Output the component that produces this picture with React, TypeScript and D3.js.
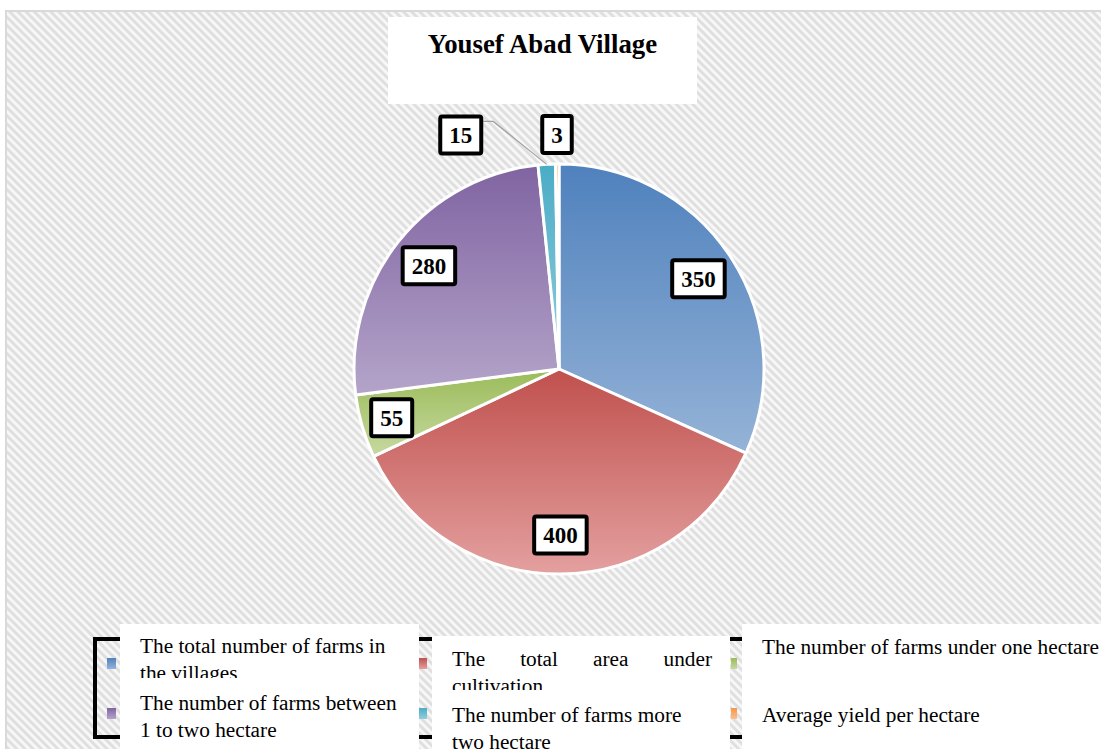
import React from 'react';
import * as d3 from 'd3';

const title = 'Yousef Abad Village';
const categories = [
  'The total number of farms in the villages',
  'The total area under cultivation',
  'The number of farms under one hectare',
  'The number of farms between 1 to two hectare',
  'The number of farms more two hectare',
  'Average yield per hectare',
];
const values = [350, 400, 55, 280, 15, 3];
const topColors = ['#4f81bd', '#c0504d', '#9bbb59', '#8064a2', '#4bacc6', '#f79646'];
const bottomColors = ['#95b3d7', '#e3a09f', '#c6d9a0', '#b4a4c9', '#93cddd', '#fac090'];
const legendLines = [
  ['The total number of farms in', 'the villages'],
  ['The total area under', 'cultivation'],
  ['The number of farms under one hectare'],
  ['The number of farms between', '1 to two hectare'],
  ['The number of farms more', 'two hectare'],
  ['Average yield per hectare'],
];

const SERIF = '"Liberation Serif", "Times New Roman", serif';

let ctx: CanvasRenderingContext2D | null = null;
function measure(text: string, font: string): number {
  if (!ctx) ctx = document.createElement('canvas').getContext('2d');
  if (!ctx) return text.length * 10;
  ctx.font = font;
  return ctx.measureText(text).width;
}

export default function App() {
  const W = 1101, H = 749;
  const cx = 559, cy = 369, R = 205;

  const pie = d3.pie<number>().value((d) => d).sort(null).startAngle(0).endAngle(2 * Math.PI);
  const arcs = pie(values);
  const arcGen = d3.arc<d3.PieArcDatum<number>>().innerRadius(0).outerRadius(R);

  const labelFontSize = 23;
  const labelFont = `bold ${labelFontSize}px "Liberation Serif"`;
  const boxH = 41;
  type Lab = { x: number; y: number; w: number; outside: boolean; mid: number; text: string; leader: boolean };
  const labels: Lab[] = arcs.map((a) => {
    const mid = (a.startAngle + a.endAngle) / 2;
    const span = a.endAngle - a.startAngle;
    const outside = span < 0.15;
    // narrower slices push their label further out (best-fit style)
    const r = outside ? R + 29.5 : span < 0.5 ? R * 0.85 : R * 0.81;
    const text = String(a.data);
    return {
      x: cx + r * Math.sin(mid),
      y: cy - r * Math.cos(mid),
      w: measure(text, labelFont) + 22,
      outside,
      mid,
      text,
      leader: false,
    };
  });
  for (let i = labels.length - 2; i >= 0; i--) {
    const a = labels[i], b = labels[i + 1];
    if (a.outside && b.outside) {
      const maxRight = b.x - b.w / 2 - 57;
      if (a.x + a.w / 2 > maxRight) {
        a.x = maxRight - a.w / 2;
        a.leader = true;
      }
    }
  }

  // legend layout
  const legendFontSize = 21.3;
  const legendFont = `${legendFontSize}px "Liberation Serif"`;
  const lineH = 26.5;
  const swatchX = [107, 419, 731];
  const swatchW = [9, 8, 6];
  const swatchY = [658, 708];
  const textX = [140, 452, 762];
  const firstBaseline = [653, 666, 654, 710, 722, 722];
  const clipBottom: (number | null)[] = [678, 690, null, null, null, null];
  const justifyWidth: (number | null)[] = [null, 260, null, null, null, null];
  const colBoxes = [
    { x: 120, y: 624, w: 299 },
    { x: 432, y: 636, w: 298 },
    { x: 742, y: 624, w: 400 },
  ];

  const renderLine = (line: string, x: number, y: number, jw: number | null, key: string) => {
    if (jw == null) {
      return (
        <text key={key} x={x} y={y} fontFamily={SERIF} fontSize={legendFontSize} fill="#000">
          {line}
        </text>
      );
    }
    const words = line.split(' ');
    const widths = words.map((w) => measure(w, legendFont));
    const total = d3.sum(widths);
    const gap = (jw - total) / (words.length - 1);
    let cur = x;
    return (
      <g key={key}>
        {words.map((w, k) => {
          const el = (
            <text key={k} x={cur} y={y} fontFamily={SERIF} fontSize={legendFontSize} fill="#000">
              {w}
            </text>
          );
          cur += widths[k] + gap;
          return el;
        })}
      </g>
    );
  };

  return (
    <svg
      width={W}
      height={H}
      style={{ position: 'absolute', left: 0, top: 0, display: 'block' }}
      xmlns="http://www.w3.org/2000/svg"
    >
      <defs>
        <pattern id="stripes" width={5.8} height={5.8} patternUnits="userSpaceOnUse" patternTransform="rotate(45)">
          <rect width={5.8} height={5.8} fill="#f7f7f7" />
          <rect width={5.8} height={2.9} fill="#dfdfdf" />
        </pattern>
        {values.map((_, i) => (
          <linearGradient key={i} id={`g${i}`} x1="0" y1="0" x2="0" y2="1">
            <stop offset="0%" stopColor={topColors[i]} />
            <stop offset="100%" stopColor={bottomColors[i]} />
          </linearGradient>
        ))}
        {clipBottom.map((cb, i) =>
          cb == null ? null : (
            <clipPath key={i} id={`clip${i}`}>
              <rect x={0} y={0} width={W} height={cb} />
            </clipPath>
          )
        )}
      </defs>

      <rect x={0} y={0} width={W} height={H} fill="#ffffff" />
      <rect x={6} y={11} width={W + 10} height={H + 10} fill="url(#stripes)" stroke="#d9d9d9" strokeWidth={2} />

      {/* title */}
      <rect x={388} y={17} width={309} height={87} fill="#ffffff" />
      <text x={542.5} y={53} textAnchor="middle" fontFamily={SERIF} fontWeight="bold" fontSize={26.8} fill="#000">
        {title}
      </text>

      {/* pie */}
      <g transform={`translate(${cx},${cy})`}>
        {arcs.map((a, i) => (
          <path key={i} d={arcGen(a) || ''} fill={`url(#g${i})`} stroke="#ffffff" strokeWidth={3} strokeLinejoin="round" />
        ))}
      </g>

      {/* leader lines */}
      {labels.map((l, i) =>
        l.leader ? (
          <polyline
            key={i}
            points={[
              [l.x + l.w / 2, l.y - boxH / 2 + 7],
              [l.x + l.w / 2 + 10, l.y - boxH / 2 + 7],
              [cx + R * Math.sin(l.mid), cy - R * Math.cos(l.mid)],
            ]
              .map((p) => p.join(','))
              .join(' ')}
            fill="none"
            stroke="#a0a0a0"
            strokeWidth={1.2}
          />
        ) : null
      )}

      {/* data labels */}
      {labels.map((l, i) => (
        <g key={i}>
          <rect
            x={l.x - l.w / 2 + 2}
            y={l.y - boxH / 2 + 2}
            width={l.w - 4}
            height={boxH - 4}
            rx={2}
            fill="#ffffff"
            stroke="#000"
            strokeWidth={4}
          />
          <text x={l.x} y={l.y + 8} textAnchor="middle" fontFamily={SERIF} fontWeight="bold" fontSize={labelFontSize} fill="#000">
            {l.text}
          </text>
        </g>
      ))}

      {/* legend */}
      <rect x={95} y={639} width={W} height={98} fill="none" stroke="#000" strokeWidth={4} />
      {colBoxes.map((b, i) => (
        <rect key={i} x={b.x} y={b.y} width={b.w} height={H - b.y + 10} fill="#ffffff" />
      ))}
      {categories.map((c, i) => {
        const col = i % 3, row = Math.floor(i / 3);
        return (
          <g key={c}>
            <rect x={swatchX[col]} y={swatchY[row]} width={swatchW[col]} height={11} fill={`url(#g${i})`} />
            <g clipPath={clipBottom[i] != null ? `url(#clip${i})` : undefined}>
              {legendLines[i].map((line, k) =>
                renderLine(line, textX[col], firstBaseline[i] + k * lineH, k === 0 ? justifyWidth[i] : null, `${i}-${k}`)
              )}
            </g>
          </g>
        );
      })}
    </svg>
  );
}
